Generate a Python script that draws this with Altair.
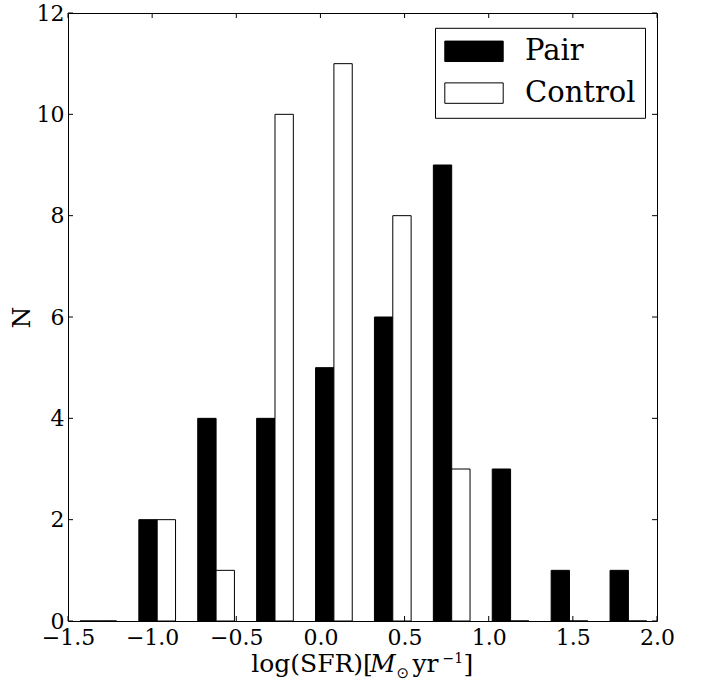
import altair as alt
import pandas as pd

# Histogram of log(SFR) for paired galaxies and the control sample
bin_centers = [-1.32, -0.97, -0.62, -0.27, 0.08, 0.43, 0.78, 1.13, 1.48, 1.83]
pair_counts = [0, 2, 4, 4, 5, 6, 9, 3, 1, 1]
control_counts = [0, 2, 1, 10, 11, 8, 3, 0, 0, 0]
series_names = ["Pair", "Control"]
series_fill = ["black", "white"]
x_ticks = [-1.5, -1.0, -0.5, 0.0, 0.5, 1.0, 1.5, 2.0]
y_ticks = [0, 2, 4, 6, 8, 10, 12]

BAR_W = 0.109      # width of each bar in data units
W, H = 589, 608    # plot area in pixels
TICK = 5           # inward tick length
FONT = "DejaVu Serif"
FS = 22            # tick labels
TFS = 25           # axis titles

rows = []
for c, p, k in zip(bin_centers, pair_counts, control_counts):
    rows.append({"series": "Pair", "x0": c - BAR_W, "x1": c, "n": p})
    rows.append({"series": "Control", "x0": c, "x1": c + BAR_W, "n": k})
bars_df = pd.DataFrame(rows)

xscale = alt.Scale(domain=[-1.5, 2.0], nice=False, zero=False)
yscale = alt.Scale(domain=[0, 12], nice=False, zero=False)

x_axis = alt.Axis(values=x_ticks, format=".1f", title=None, grid=False,
                  domain=False, ticks=False, labelFont=FONT, labelFontSize=FS,
                  labelColor="black", labelPadding=6, labelFlush=False,
                  labelOverlap=False)
y_axis = alt.Axis(values=y_ticks, format="d", title="N", grid=False,
                  domain=False, ticks=False, labelFont=FONT, labelFontSize=FS,
                  labelColor="black", labelPadding=4, labelFlush=False,
                  labelOverlap=False, titleFont=FONT, titleFontSize=TFS,
                  titleFontWeight="normal", titleColor="black", titlePadding=2)

legend = alt.Legend(title=None, orient="none", legendX=367, legendY=14.8,
                    direction="vertical",
                    symbolType="M-1,-0.35H1V0.35H-1Z", symbolSize=3411,
                    symbolStrokeColor="black", symbolStrokeWidth=1,
                    symbolOpacity=1, clipHeight=29,
                    labelFont=FONT, labelFontSize=29, labelColor="black",
                    labelOffset=21, fillColor="white", strokeColor="black",
                    padding=9, rowPadding=11.8, cornerRadius=0)

bars = alt.Chart(bars_df).mark_rect(stroke="black", strokeWidth=1).encode(
    x=alt.X("x0:Q", scale=xscale, axis=x_axis),
    x2="x1",
    y=alt.Y("n:Q", scale=yscale, axis=y_axis),
    y2=alt.datum(0),
    fill=alt.Fill("series:N",
                  scale=alt.Scale(domain=series_names, range=series_fill),
                  legend=legend),
)

xt_df = pd.DataFrame({"v": x_ticks})
yt_df = pd.DataFrame({"v": y_ticks})


def x_tick_rules(y0, y1):
    return alt.Chart(xt_df).mark_rule(color="black", strokeWidth=1).encode(
        x=alt.X("v:Q", scale=xscale, axis=x_axis),
        y=alt.value(y0), y2=alt.value(y1))


def y_tick_rules(x0, x1):
    return alt.Chart(yt_df).mark_rule(color="black", strokeWidth=1).encode(
        y=alt.Y("v:Q", scale=yscale, axis=y_axis),
        x=alt.value(x0), x2=alt.value(x1))


def text_piece(text, x, y, size=TFS, style="normal", font=FONT):
    return alt.Chart(pd.DataFrame({"t": [text]})).mark_text(
        align="left", baseline="alphabetic", font=font, fontSize=size,
        fontStyle=style, color="black").encode(
        x=alt.value(x), y=alt.value(y), text="t:N")


# x-axis label: log(SFR)[M_sun yr^-1], assembled from pieces
xlabel = [
    text_piece("log(SFR)[", 183.2, 659.3),
    text_piece("M", 302, 659.3, style="italic"),
    text_piece("\u2299", 328.5, 664.5, size=15, font="DejaVu Sans"),
    text_piece("yr", 344.5, 659.3),
    text_piece("\u22121", 374.5, 650.3, size=14),
    text_piece("]", 395.5, 659.3),
]

chart = alt.layer(
    bars,
    x_tick_rules(H, H - TICK),
    x_tick_rules(0, TICK),
    y_tick_rules(0, TICK),
    y_tick_rules(W, W - TICK),
    *xlabel,
).properties(
    width=W, height=H,
    autosize=alt.AutoSizeParams(type="none"),
    padding={"left": 68, "top": 13, "right": 50, "bottom": 63},
).configure_view(
    stroke="black", strokeWidth=1
).configure_legend(
    labelFont=FONT
)

chart.save("out.html", embed_options={"renderer": "svg", "actions": False})
